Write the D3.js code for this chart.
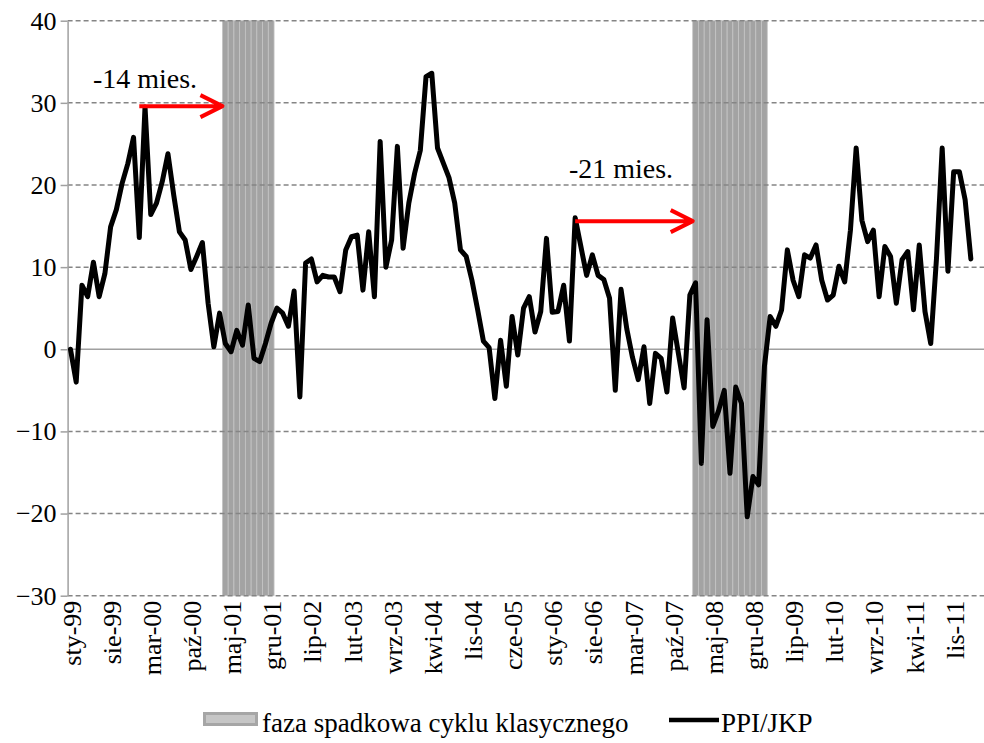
<!DOCTYPE html>
<html>
<head>
<meta charset="utf-8">
<script src="https://cdn.jsdelivr.net/npm/d3@7"></script>
<style>
  body { margin: 0; background: #ffffff; }
  svg text { font-family: "Liberation Serif", "Times New Roman", serif; fill: #000; }
</style>
</head>
<body>
<div id="chart"></div>
<script>
/** Month names and years used to build the monthly categories */
var monthNames = ["sty","lut","mar","kwi","maj","cze","lip","sie","wrz","paź","lis","gru"];
var years = ["99","00","01","02","03","04","05","06","07","08","09","10","11","12"];

/** PPI/JKP, monthly values from sty-99 */
var ppi = [
  0, -4, 7.8, 6.4, 10.6, 6.4, 9.2, 14.9, 17, 20.2, 22.6, 25.8,
  13.6, 29.5, 16.4, 17.8, 20.4, 23.8, 18.8, 14.3, 13.3, 9.7, 11.3, 13.0,
  5.6, 0.3, 4.4, 0.7, -0.3, 2.3, 0.5, 5.4, -1.1, -1.5, 0.7, 3.2,
  5.0, 4.4, 2.8, 7.1, -5.8, 10.5, 11.0, 8.2, 9.0, 8.8, 8.8, 7.0,
  12.1, 13.7, 13.9, 7.2, 14.3, 6.4, 25.3, 10.0, 13.3, 24.7, 12.3, 17.8,
  21.4, 24.2, 33.2, 33.6, 24.5, 22.7, 20.9, 17.8, 12.1, 11.3, 8.4, 4.8,
  1.0, 0.2, -6.0, 1.1, -4.5, 4.0, -0.7, 5.0, 6.4, 2.1, 4.6, 13.5,
  4.5, 4.6, 7.8, 1.0, 16.0, 12.5, 9.0, 11.5, 9.0, 8.5, 6.2, -5.0,
  7.3, 2.5, -1.0, -3.7, 0.3, -6.6, -0.5, -1.1, -5.2, 3.8, -0.5, -4.7,
  6.6, 8.1, -13.9, 3.6, -9.4, -7.5, -5.0, -15.1, -4.6, -6.6, -20.4, -15.5,
  -16.5, -2.1, 4.0, 2.8, 4.8, 12.1, 8.4, 6.4, 11.5, 11.1, 12.7, 8.4,
  6.0, 6.6, 10.1, 8.2, 14.5, 24.5, 15.7, 13.1, 14.5, 6.4, 12.5, 11.3,
  5.6, 10.9, 11.9, 4.8, 12.7, 4.6, 0.7, 11.0, 24.5, 9.5, 21.6, 21.6,
  18.2, 11.0
];

/** Category axis labels (every 7th month) */
var tickLabels = ["sty-99","sie-99","mar-00","paź-00","maj-01","gru-01","lip-02","lut-03",
  "wrz-03","kwi-04","lis-04","cze-05","sty-06","sie-06","mar-07","paź-07","maj-08",
  "gru-08","lip-09","lut-10","wrz-10","kwi-11","lis-11"];
var yTicks = [-30, -20, -10, 0, 10, 20, 30, 40];

/** Falling phase of the classical cycle (first and last month) */
var phaseStart = ["kwi-01", "lut-08"];
var phaseEnd = ["gru-01", "lut-09"];
var phaseTop = 40, phaseBottom = -30;

/** Lead arrows: from month, to month (start of phase), level, label */
var arrowFrom = ["sty-00", "maj-06"];
var arrowTo = ["kwi-01", "lut-08"];
var arrowLevel = [29.6, 15.6];
var arrowText = ["-14 mies.", "-21 mies."];
var arrowTextAt = ["lut-00", "sty-07"];
var arrowTextLevel = [31.8, 20.8];

var serif = "'Liberation Serif', 'Times New Roman', serif";

var categories = [];
years.forEach(function(yr) {
  monthNames.forEach(function(m) { categories.push(m + "-" + yr); });
});
categories = categories.slice(0, 160);

var margin = {top: 20.7, left: 67.6},
    width = 160 * 5.735,
    height = 575;

var svg = d3.select("#chart")
  .append("svg")
    .attr("width", 984)
    .attr("height", 743)
    .attr("font-family", serif)
  .append("g")
    .attr("transform", "translate(" + margin.left + "," + margin.top + ")");

var x = d3.scaleBand().domain(categories).range([0, width]).padding(0);
var y = d3.scaleLinear().domain([-30, 40]).range([height, 0]);
var cx = function(c) { return x(c) + x.bandwidth() / 2; };

/** shaded bars, one per month of each phase */
var phaseMonths = [];
phaseStart.forEach(function(s, k) {
  var i0 = categories.indexOf(s), i1 = categories.indexOf(phaseEnd[k]);
  for (var i = i0; i <= i1; i++) phaseMonths.push(categories[i]);
});
svg.selectAll("rect.phase")
  .data(phaseMonths)
  .enter()
  .append("rect")
    .attr("class", "phase")
    .attr("x", function(d) { return x(d); })
    .attr("y", y(phaseTop))
    .attr("width", x.bandwidth())
    .attr("height", y(phaseBottom) - y(phaseTop))
    .style("fill", "#a3a3a3")
    .style("stroke", "#c4c4c4")
    .style("stroke-width", 0.8);

/** gridlines */
svg.selectAll("line.grid")
  .data(yTicks)
  .enter()
  .append("line")
    .attr("x1", 0)
    .attr("x2", 984)
    .attr("y1", function(d) { return y(d); })
    .attr("y2", function(d) { return y(d); })
    .style("stroke", function(d) { return d === 0 ? "#a0a0a0" : "#858585"; })
    .style("stroke-width", 1.5)
    .style("stroke-dasharray", function(d) { return d === 0 ? null : "5,3"; });

/** y axis */
var yAxis = svg.append("g")
  .call(d3.axisLeft(y).tickValues(yTicks).tickSize(7).tickSizeOuter(0).tickPadding(4));
yAxis.attr("font-family", serif).attr("font-size", 26);
yAxis.select(".domain").style("stroke", "#a0a0a0").style("stroke-width", 1.5);
yAxis.selectAll(".tick line").style("stroke", "#a0a0a0").style("stroke-width", 1.5);
yAxis.selectAll(".tick text")
  .attr("font-family", serif)
  .style("font-family", serif)
  .style("font-size", "26px");

/** category labels, rotated */
svg.selectAll("text.xlab")
  .data(tickLabels)
  .enter()
  .append("text")
    .attr("class", "xlab")
    .attr("transform", function(d) {
      return "translate(" + (cx(d) + 1) + "," + (height + 5) + ") rotate(-90)";
    })
    .attr("text-anchor", "end")
    .attr("dy", "0.35em")
    .style("font-family", serif)
    .style("font-size", "26px")
    .text(function(d) { return d; });

/** PPI/JKP line */
var line = d3.line()
  .x(function(d, i) { return cx(categories[i]); })
  .y(function(d) { return y(d); });
svg.append("path")
  .datum(ppi)
  .attr("d", line)
  .style("fill", "none")
  .style("stroke", "#000")
  .style("stroke-width", 5)
  .style("stroke-linejoin", "round")
  .style("stroke-linecap", "round");

/** lead arrows */
arrowFrom.forEach(function(f, k) {
  var x0 = cx(f), x1 = x(arrowTo[k]), yy = y(arrowLevel[k]);
  svg.append("path")
    .attr("d", "M" + x0 + "," + yy + "H" + x1 +
      "M" + (x1 - 22) + "," + (yy - 11) + "L" + x1 + "," + yy + "L" + (x1 - 22) + "," + (yy + 11))
    .style("fill", "none")
    .style("stroke", "#ff0000")
    .style("stroke-width", 4)
    .style("stroke-linejoin", "round");
  svg.append("text")
    .attr("x", cx(arrowTextAt[k]))
    .attr("y", y(arrowTextLevel[k]))
    .attr("text-anchor", "middle")
    .style("font-family", serif)
    .style("font-size", "28px")
    .text(arrowText[k]);
});

/** legend */
var legend = d3.select("svg").append("g");
legend.append("rect")
  .attr("x", 204.5).attr("y", 713.5).attr("width", 52).attr("height", 11)
  .style("fill", "#c6c6c6").style("stroke", "#a6a6a6").style("stroke-width", 3);
legend.append("text")
  .attr("x", 262).attr("y", 732)
  .style("font-family", serif)
  .style("font-size", "27px")
  .text("faza spadkowa cyklu klasycznego");
legend.append("line")
  .attr("x1", 669).attr("x2", 719).attr("y1", 720).attr("y2", 720)
  .style("stroke", "#000").style("stroke-width", 4.5);
legend.append("text")
  .attr("x", 721).attr("y", 732)
  .style("font-family", serif)
  .style("font-size", "27px")
  .text("PPI/JKP");
</script>
</body>
</html>
